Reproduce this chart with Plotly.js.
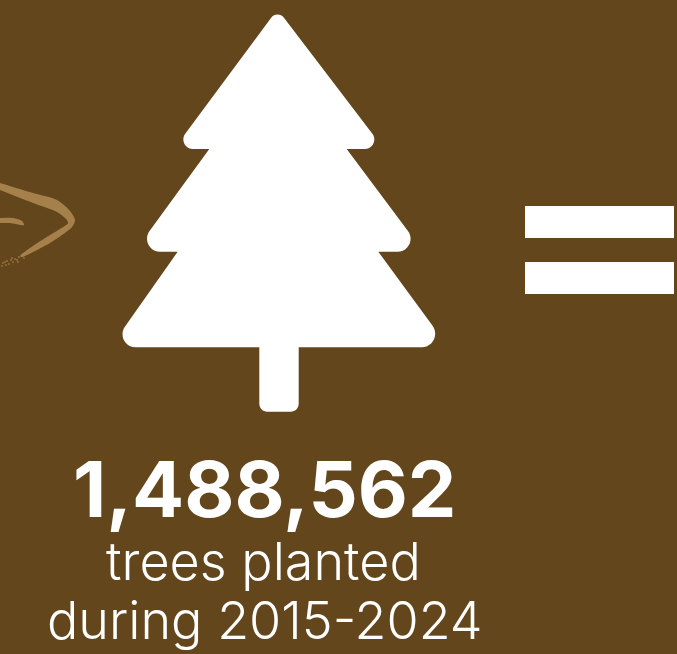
<!DOCTYPE html>
<html><head><meta charset="utf-8">
<script src="https://cdn.plot.ly/plotly-3.0.1.min.js"></script>
<style>html,body{margin:0;padding:0;background:#63461B;overflow:hidden}#c{width:677px;height:654px}</style>
</head><body><div id="c"></div><script>
const headline = "1,488,562";
const subLines = ["trees planted", "during 2015-2024"];
const background = "#63461B";
const swooshColor = "#A5804B";
const treeX = [277.5, 174, 209.3, 134.5, 177.7, 110.5, 259.3, 259.3, 298.7, 298.7, 448.3, 378.3, 423.5, 346.7, 384];
const treeY = [9.3, 149, 149, 251.7, 251.7, 347.3, 347.3, 411.7, 411.7, 347.3, 347.3, 251.7, 251.7, 149, 149];
const treeR = [8, 9.5, 0, 13, 0, 13, 0, 8, 8, 0, 13.5, 0, 13, 0, 9.5];
const barX = [525, 674];
const barTopY = [206, 238];
const barLowY = [262, 294];
const swooshX = [0, 33, 57, 70, 75, 72, 50, 33, 22, 20, 30, 50, 60, 68, 66, 57, 33, 0];
const swooshY = [183, 193, 200, 211, 220, 227, 243, 252, 257, 256, 248, 235, 229, 223, 219, 212, 203, 190];
const dashX = [0, 13, 22, 24, 10, 0];
const dashY = [218, 218, 221, 225, 223, 223];
const speckX = [3, 7, 11, 15, 19, 6, 13, 9, 17, 22, 2, 25, 5, 12, 18, 24, 28];
const speckY = [263, 261, 260, 259, 257, 265, 262, 264, 260, 256, 266, 254, 262, 258, 262, 258, 252];

function roundedPath(xs, ys, rs) {
  const n = xs.length; let d = "";
  for (let i = 0; i < n; i++) {
    const p = (i + n - 1) % n, q = (i + 1) % n;
    const ax = xs[p] - xs[i], ay = ys[p] - ys[i], bx = xs[q] - xs[i], by = ys[q] - ys[i];
    const a = Math.hypot(ax, ay), b = Math.hypot(bx, by), r = rs[i];
    const theta = Math.acos((ax * bx + ay * by) / (a * b));
    const t = r / Math.tan(theta / 2);
    const h = (4 / 3) * Math.tan((Math.PI - theta) / 4) * r;
    const x1 = xs[i] + ax * t / a, y1 = ys[i] + ay * t / a;
    const x2 = xs[i] + bx * t / b, y2 = ys[i] + by * t / b;
    d += (i ? "L" : "M") + x1 + "," + y1;
    if (r) d += "C" + (x1 - ax * h / a) + "," + (y1 - ay * h / a) + " " + (x2 - bx * h / b) + "," + (y2 - by * h / b) + " " + x2 + "," + y2;
  }
  return d + "Z";
}
const fillTrace = (x, y) => ({x, y, type: "scatter", mode: "lines", fill: "toself", fillcolor: swooshColor, line: {width: 0, color: swooshColor, shape: "spline", smoothing: 0.8}, hoverinfo: "skip"});
const data = [
  fillTrace(swooshX, swooshY),
  fillTrace(dashX, dashY),
  {x: speckX, y: speckY, type: "scatter", mode: "markers", marker: {size: 2, color: swooshColor, opacity: 0.7}, hoverinfo: "skip"}
];
const rect = (x, y) => ({type: "rect", xref: "x", yref: "y", x0: x[0], x1: x[1], y0: y[0], y1: y[1], fillcolor: "#fff", line: {width: 0}});
const text = (t, x, y, size, weight) => ({xref: "x", yref: "y", x, y, text: t, showarrow: false, xanchor: "center", yanchor: "middle", font: {family: "Inter", size, weight, color: "#fff"}});
const layout = {
  width: 677, height: 654, margin: {l: 0, r: 0, t: 0, b: 0},
  paper_bgcolor: background, plot_bgcolor: background, showlegend: false,
  xaxis: {range: [0, 677], visible: false, fixedrange: true},
  yaxis: {range: [654, 0], visible: false, fixedrange: true},
  shapes: [
    {type: "path", xref: "x", yref: "y", path: roundedPath(treeX, treeY, treeR), fillcolor: "#fff", line: {width: 0}},
    rect(barX, barTopY), rect(barX, barLowY)
  ],
  annotations: [text(headline, 265, 488.5, 77.2, 700), text(subLines[0], 263.5, 561, 52.1, 350), text(subLines[1], 264.5, 620.8, 52.1, 350)]
};
Plotly.newPlot("c", data, layout, {displayModeBar: false, staticPlot: true});
</script></body></html>
